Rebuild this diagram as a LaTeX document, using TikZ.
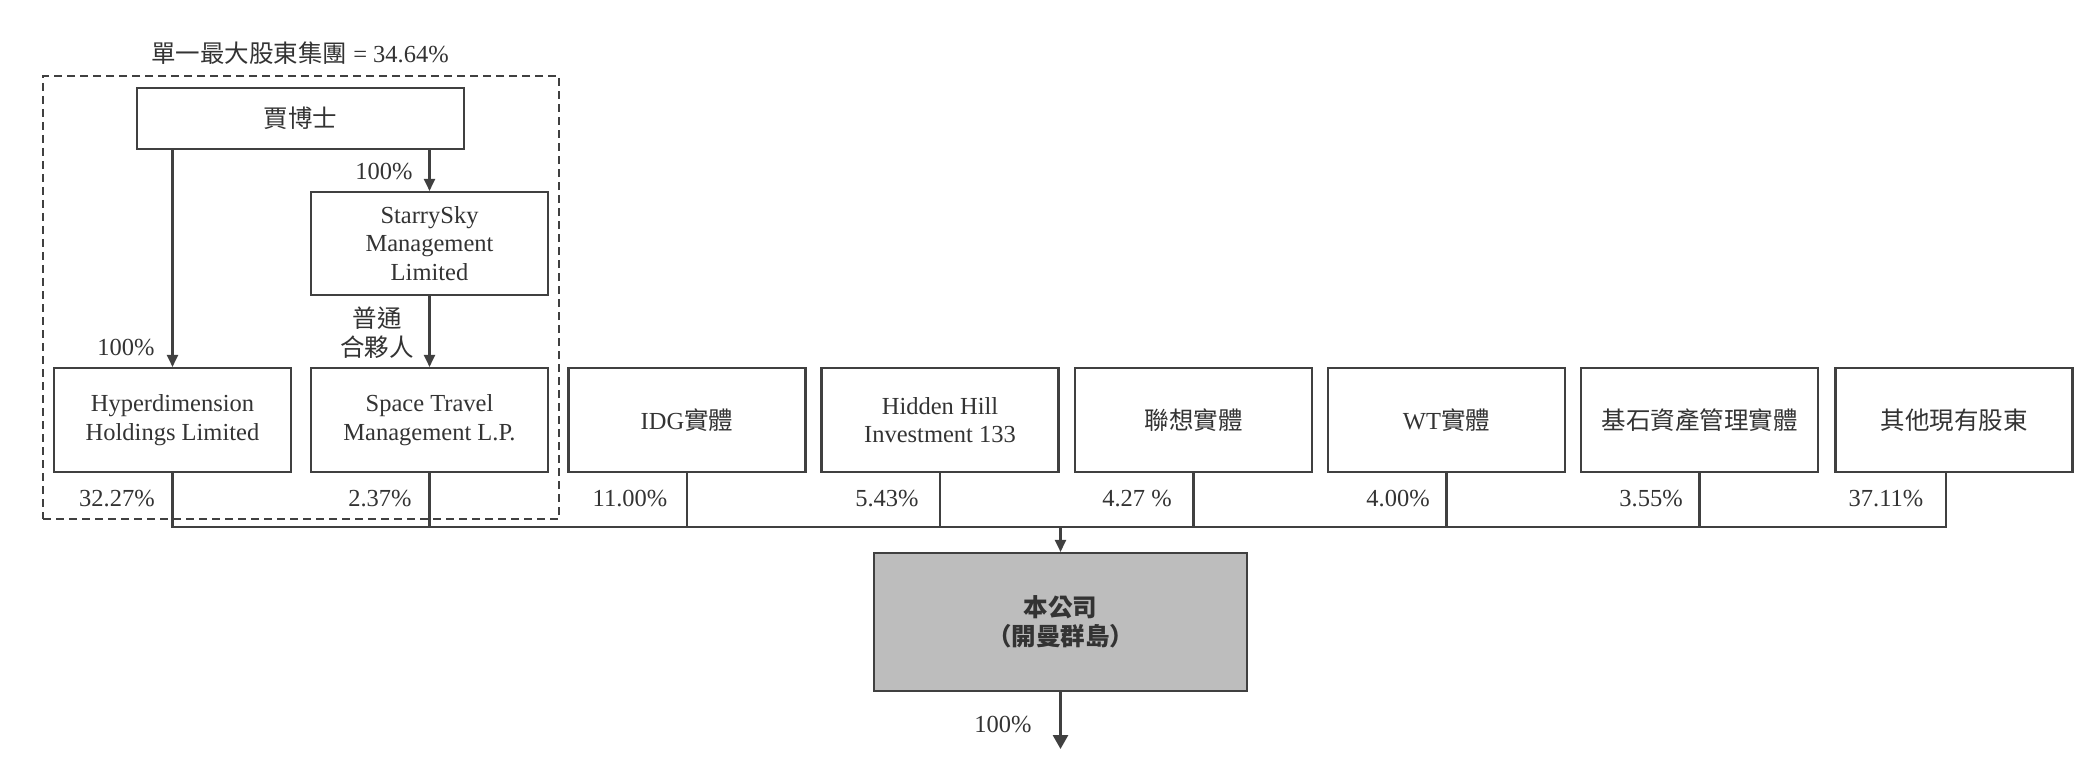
\documentclass[tikz,border=0pt]{standalone}
\usepackage{fontspec}
\setmainfont{Liberation Serif}
\newfontfamily\cjk{Noto Sans CJK TC}
\usetikzlibrary{arrows.meta}
\definecolor{ln}{HTML}{404040}
\definecolor{tx}{HTML}{333333}
\definecolor{co}{HTML}{BDBDBD}
\begin{document}
\begin{tikzpicture}[x=1pt,y=-1pt,
  box/.style={draw=ln, line width=2.1pt, minimum width=237pt, minimum height=104pt, align=center, text=tx, inner sep=0pt, font=\fontsize{24.5}{28.5}\selectfont},
  lbl/.style={text=tx, inner sep=0pt, font=\fontsize{24.5}{29}\selectfont, align=center},
  grp/.style={draw=ln, line width=2.1pt, dash pattern=on 8pt off 5pt, inner sep=0pt},
  conn/.style={draw=ln, line width=2.1pt},
  arr/.style={conn, -{Triangle[width=11pt,length=12pt]}},
  bigarr/.style={draw=ln, line width=2.8pt, -{Triangle[width=15pt,length=14pt]}},
]
\useasboundingbox (0,0) rectangle (2100,770);

% group frame and title
\node[grp, minimum width=516pt, minimum height=443pt] (group) at (301,297.5) {};
\node[lbl] (title) at (300,53) {{\cjk 單一最大股東集團} = 34.64\%};

% boxes
\node[box, minimum width=327pt, minimum height=61pt] (jia) at (300.5,118.5) {\cjk 賈博士};
\node[box, minimum height=103pt] (starry) at (429.5,243.5) {StarrySky\\Management\\Limited};
\node[box] (hyper) at (172.5,420) {Hyperdimension\\Holdings Limited};
\node[box] (space) at (429.5,420) {Space Travel\\Management L.P.};
\node[box] (idg) at (687,420) {IDG{\cjk 實體}};
\node[box] (hh) at (940,420) {Hidden Hill\\Investment 133};
\node[box] (lenovo) at (1193.5,420) {\cjk 聯想實體};
\node[box] (wt) at (1446.5,420) {WT{\cjk 實體}};
\node[box] (jishi) at (1699.5,420) {\cjk 基石資產管理實體};
\node[box] (other) at (1954,420) {\cjk 其他現有股東};
\node[box, fill=co, minimum width=373pt, minimum height=138pt] (company) at (1060.5,622) {{\cjk\bfseries 本公司}\\{\cjk\bfseries （開曼群島）}};

% connectors inside group
\draw[arr] (jia.south -| hyper.north) -- (hyper.north);
\draw[arr] (jia.south -| starry.north) -- (starry.north);
\draw[arr] (starry.south) -- (space.north);

% bus
\coordinate (bus) at (1060.5,527);
\coordinate (otherdrop) at ([xshift=-8pt]other.south);
\draw[conn] (hyper.south) |- (otherdrop |- bus) -- (otherdrop);
\foreach \n in {space,idg,hh,lenovo,wt,jishi}{
  \draw[conn] (\n.south) -- (\n.south |- bus);
}
\draw[arr] (bus) -- (company.north);
\coordinate (sub) at (1060.5,749);
\draw[bigarr] (company.south) -- (sub);

% labels
\node[lbl] (p1) at (384,172) {100\%};
\node[lbl] (p2) at (126,348) {100\%};
\node[lbl] (gp) at (377,333) {{\cjk 普通}\\{\cjk 合夥人}};
\node[lbl] (q1) at (117,499) {32.27\%};
\node[lbl] (q2) at (380,499) {2.37\%};
\node[lbl] (q3) at (630,499) {11.00\%};
\node[lbl] (q4) at (887,499) {5.43\%};
\node[lbl] (q5) at (1137,499) {4.27 \%};
\node[lbl] (q6) at (1398,499) {4.00\%};
\node[lbl] (q7) at (1651,499) {3.55\%};
\node[lbl] (q8) at (1886,499) {37.11\%};
\node[lbl] (q9) at (1003,725) {100\%};
\end{tikzpicture}
\end{document}
